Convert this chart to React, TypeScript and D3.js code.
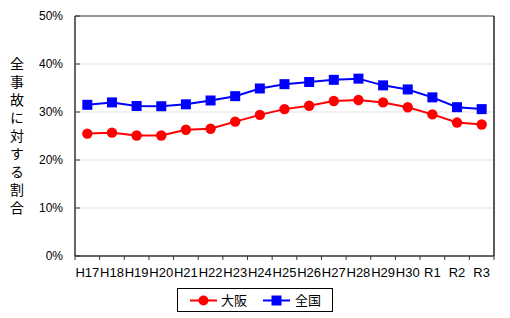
import React from "react";
import * as d3 from "d3";

const categories = ["H17","H18","H19","H20","H21","H22","H23","H24","H25","H26","H27","H28","H29","H30","R1","R2","R3"];
const osaka = [25.5,25.7,25.1,25.1,26.3,26.5,28.0,29.4,30.6,31.3,32.3,32.5,32.0,31.0,29.5,27.8,27.4];
const zenkoku = [31.5,32.0,31.25,31.2,31.6,32.4,33.3,34.9,35.8,36.25,36.7,36.95,35.55,34.7,33.05,31.0,30.6];
const yTicks = [0,10,20,30,40,50];
const yTitle = "全事故に対する割合";
const seriesNames = ["大阪","全国"];

const W = 510, H = 318;
const left = 75, right = 494, top = 16, bottom = 256;
const FONT = "'Liberation Sans', Arial, 'Noto Sans CJK JP', sans-serif";
const JFONT = "'Noto Sans CJK JP', sans-serif";

export default function App() {
  const x = d3.scaleBand<string>().domain(categories).range([left, right]).padding(0);
  const y = d3.scaleLinear().domain([0, 50]).range([bottom, top]);
  const cx = (c: string) => (x(c) as number) + x.bandwidth() / 2;
  const line = d3.line<number>().x((_, i) => cx(categories[i])).y((d) => y(d));
  const boundaries = d3.range(categories.length + 1).map((i) => left + i * x.bandwidth());

  return (
    <svg width={W} height={H} style={{ position: "absolute", left: 0, top: 0, background: "#fff" }}>
      {yTicks.filter((t) => t > 0 && t < 50).map((t) => (
        <line key={"g" + t} x1={left} x2={right} y1={y(t)} y2={y(t)} stroke="#e2e2e2" strokeWidth={1.2} />
      ))}
      <line x1={left} x2={right} y1={top} y2={top} stroke="#777" strokeWidth={1.5} />
      <line x1={right} x2={right} y1={top} y2={bottom} stroke="#000" strokeWidth={1.3} />
      <line x1={left} x2={left} y1={top} y2={bottom} stroke="#333" strokeWidth={1.5} />
      <line x1={left} x2={right} y1={bottom} y2={bottom} stroke="#333" strokeWidth={1.5} />
      {yTicks.map((t) => (
        <g key={"yt" + t}>
          <line x1={left} x2={left + 5} y1={y(t)} y2={y(t)} stroke="#333" strokeWidth={1} />
          <text x={63} y={y(t)} dy="0.35em" textAnchor="end" fontFamily={FONT} fontSize={12} fill="#000">{t + "%"}</text>
        </g>
      ))}
      {boundaries.map((b, i) => (
        <line key={"xt" + i} x1={b} x2={b} y1={bottom} y2={bottom + 4} stroke="#333" strokeWidth={1} />
      ))}
      {categories.map((c) => (
        <text key={"xl" + c} x={cx(c)} y={277} textAnchor="middle" fontFamily={FONT} fontSize={13} fill="#000">{c}</text>
      ))}
      <text x={17} y={57} fontFamily={JFONT} fontSize={14} fill="#000"
        style={{ writingMode: "vertical-rl", letterSpacing: "4px" }}>{yTitle}</text>
      <path d={line(zenkoku) || ""} fill="none" stroke="#0000ff" strokeWidth={2} />
      <path d={line(osaka) || ""} fill="none" stroke="#ff0000" strokeWidth={2} />
      {zenkoku.map((v, i) => (
        <rect key={"zs" + i} x={cx(categories[i]) - 5} y={y(v) - 5} width={10} height={10} fill="#0000ff" />
      ))}
      {osaka.map((v, i) => (
        <circle key={"oc" + i} cx={cx(categories[i])} cy={y(v)} r={5.2} fill="#ff0000" />
      ))}
      <rect x={177.5} y={288.5} width={155} height={23} fill="#fff" stroke="#000" strokeWidth={1} />
      <line x1={190} x2={217} y1={300.5} y2={300.5} stroke="#ff0000" strokeWidth={2} />
      <circle cx={203.5} cy={300.5} r={5} fill="#ff0000" />
      <text x={221} y={300.5} dy="0.35em" fontFamily={JFONT} fontSize={13} fill="#000">{seriesNames[0]}</text>
      <line x1={263} x2={290} y1={300.5} y2={300.5} stroke="#0000ff" strokeWidth={2} />
      <rect x={271.5} y={295.5} width={10} height={10} fill="#0000ff" />
      <text x={295} y={300.5} dy="0.35em" fontFamily={JFONT} fontSize={13} fill="#000">{seriesNames[1]}</text>
    </svg>
  );
}
